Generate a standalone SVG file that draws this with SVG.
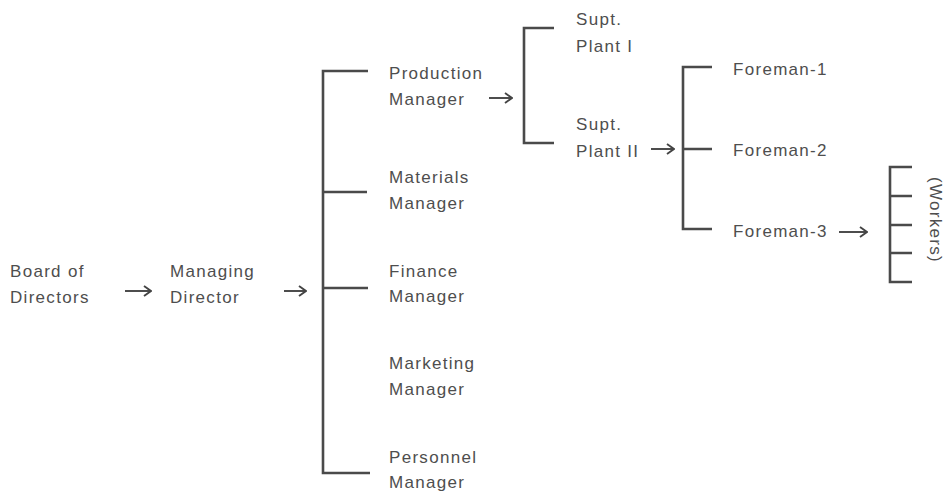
<svg xmlns="http://www.w3.org/2000/svg" width="946" height="494" viewBox="0 0 946 494">
  <defs>
    <style>
      .lbl { font-family: "Liberation Sans", Arial, sans-serif; font-size: 17px; fill: #4e4e4e; letter-spacing: 1.3px; }
      .brk { fill: none; stroke: #4a4a4a; stroke-width: 2.6; stroke-linecap: butt; }
      .arr { fill: none; stroke: #444; stroke-width: 1.9; }
    </style>
    <marker id="head" viewBox="0 0 10 12" refX="9" refY="6" markerWidth="10" markerHeight="12" markerUnits="userSpaceOnUse" orient="auto">
      <path d="M2,1 L9,6 L2,11" fill="none" stroke="#444" stroke-width="1.9"/>
    </marker>
  </defs>
  <rect width="946" height="494" fill="#fff"/>

  <!-- connectors: brackets and arrows -->
  <g id="connectors">
    <!-- managing director to managers -->
    <path class="brk" d="M368,71 H323 V473 H370 M323,192 H367 M323,288 H368"/>
    <!-- production manager to superintendents -->
    <path class="brk" d="M554,28 H524 V143 H554"/>
    <!-- supt plant II to foremen -->
    <path class="brk" d="M712,67 H683 V229 H712 M683,149 H712"/>
    <!-- foreman-3 to workers -->
    <path class="brk" d="M912,167 H890 V282 H912 M890,196 H912 M890,225 H912 M890,253 H912"/>

    <path class="arr" d="M125,291 H151" marker-end="url(#head)"/>
    <path class="arr" d="M284,291 H306" marker-end="url(#head)"/>
    <path class="arr" d="M489,98 H512" marker-end="url(#head)"/>
    <path class="arr" d="M651,149 H674" marker-end="url(#head)"/>
    <path class="arr" d="M839,232 H867" marker-end="url(#head)"/>
  </g>

  <g id="board">
    <text class="lbl" x="10" y="277">Board of</text>
    <text class="lbl" x="10" y="303">Directors</text>
  </g>
  <g id="managing-director">
    <text class="lbl" x="170" y="277">Managing</text>
    <text class="lbl" x="170" y="303">Director</text>
  </g>
  <g id="production-manager">
    <text class="lbl" x="389" y="79">Production</text>
    <text class="lbl" x="389" y="105">Manager</text>
  </g>
  <g id="materials-manager">
    <text class="lbl" x="389" y="183">Materials</text>
    <text class="lbl" x="389" y="209">Manager</text>
  </g>
  <g id="finance-manager">
    <text class="lbl" x="389" y="277">Finance</text>
    <text class="lbl" x="389" y="302">Manager</text>
  </g>
  <g id="marketing-manager">
    <text class="lbl" x="389" y="369">Marketing</text>
    <text class="lbl" x="389" y="395">Manager</text>
  </g>
  <g id="personnel-manager">
    <text class="lbl" x="389" y="463">Personnel</text>
    <text class="lbl" x="389" y="488">Manager</text>
  </g>
  <g id="supt-plant-1">
    <text class="lbl" x="576" y="25">Supt.</text>
    <text class="lbl" x="576" y="52">Plant I</text>
  </g>
  <g id="supt-plant-2">
    <text class="lbl" x="576" y="130">Supt.</text>
    <text class="lbl" x="576" y="157">Plant II</text>
  </g>
  <g id="foreman-1">
    <text class="lbl" x="733" y="75">Foreman-1</text>
  </g>
  <g id="foreman-2">
    <text class="lbl" x="733" y="156">Foreman-2</text>
  </g>
  <g id="foreman-3">
    <text class="lbl" x="733" y="237">Foreman-3</text>
  </g>
  <g id="workers">
    <text class="lbl" x="0" y="0" text-anchor="middle" transform="translate(930,220) rotate(90)">(Workers)</text>
  </g>
</svg>
